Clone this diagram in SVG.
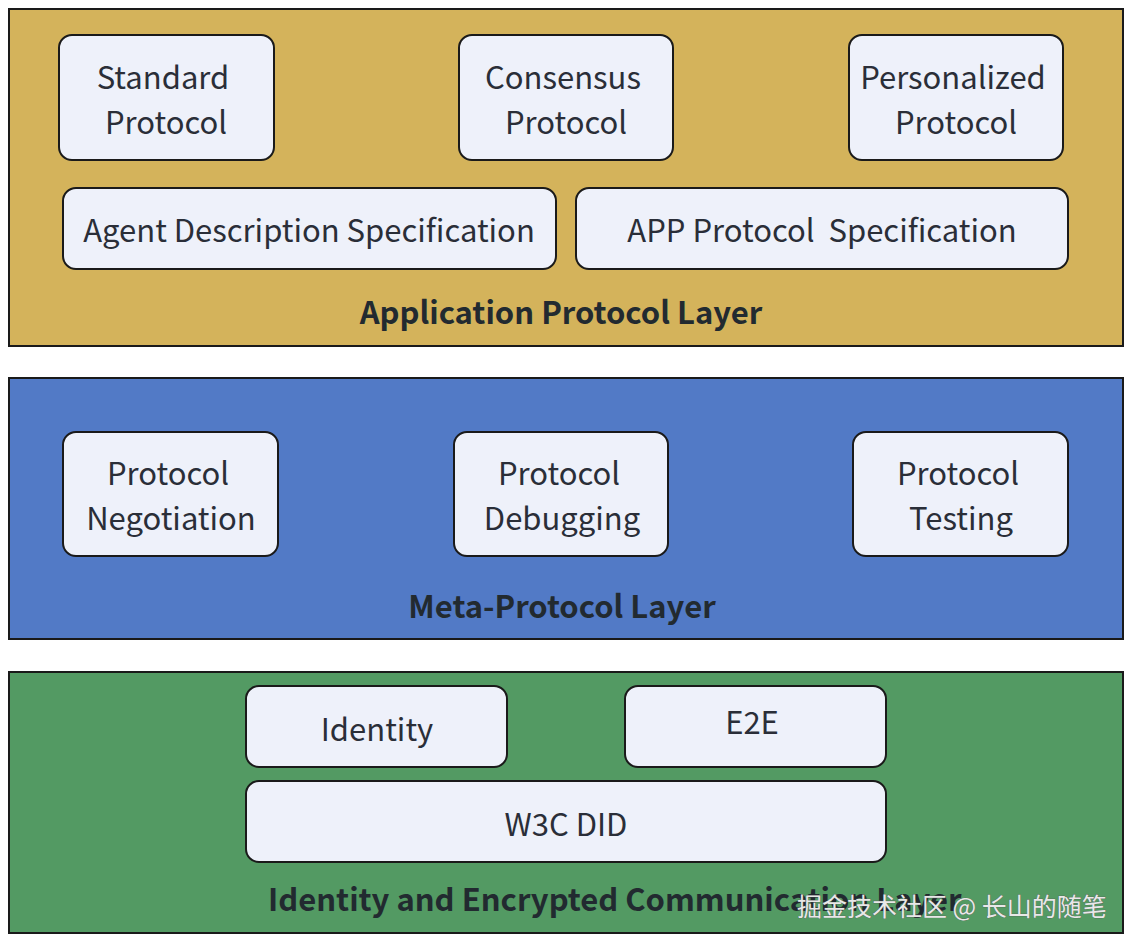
<svg xmlns="http://www.w3.org/2000/svg" width="1134" height="946" viewBox="0 0 1134 946">
<style>
.layer{stroke:#1a1a1a;stroke-width:2}
.node{fill:#eef1fa;stroke:#1a1a1a;stroke-width:2}
.t{font-family:"Noto Sans CJK SC","Noto Sans",sans-serif;font-size:31px;fill:#2a2e38;text-anchor:middle}
.lt{font-family:"Noto Sans CJK SC","Noto Sans",sans-serif;font-size:31px;font-weight:bold;fill:#222a30;text-anchor:middle}
.wm{font-family:"Noto Sans CJK SC",sans-serif;font-size:25px;fill:#e8e8e8;stroke:#555;stroke-width:0.6;paint-order:stroke}
</style>
<rect width="1134" height="946" fill="#ffffff"/>
<g id="layer-app">
<rect class="layer" x="9" y="9" width="1114" height="337" fill="#d4b35b"/>
<text class="lt" x="561" y="324">Application Protocol Layer</text>
</g>
<g id="layer-meta">
<rect class="layer" x="9" y="378" width="1114" height="261" fill="#527ac6"/>
<text class="lt" x="562" y="618">Meta-Protocol Layer</text>
</g>
<g id="layer-id">
<rect class="layer" x="9" y="672" width="1114" height="261" fill="#539a63"/>
<text class="lt" x="268" y="911" style="text-anchor:start">Identity and Encrypted Communication Layer</text>
</g>
<g id="standard-protocol">
<rect class="node" x="59" y="35" width="215" height="125" rx="13"/>
<text class="t" x="163" y="89">Standard</text>
<text class="t" x="166" y="134">Protocol</text>
</g>
<g id="consensus-protocol">
<rect class="node" x="459" y="35" width="214" height="125" rx="13"/>
<text class="t" x="563" y="89">Consensus</text>
<text class="t" x="566" y="134">Protocol</text>
</g>
<g id="personalized-protocol">
<rect class="node" x="849" y="35" width="214" height="125" rx="13"/>
<text class="t" x="953" y="89">Personalized</text>
<text class="t" x="956" y="134">Protocol</text>
</g>
<g id="agent-description">
<rect class="node" x="63" y="188" width="493" height="81" rx="13"/>
<text class="t" x="309" y="242">Agent Description Specification</text>
</g>
<g id="app-protocol-spec">
<rect class="node" x="576" y="188" width="492" height="81" rx="13"/>
<text class="t" x="822" y="242" xml:space="preserve">APP Protocol  Specification</text>
</g>
<g id="protocol-negotiation">
<rect class="node" x="63" y="432" width="215" height="124" rx="13"/>
<text class="t" x="168" y="485">Protocol</text>
<text class="t" x="171" y="530">Negotiation</text>
</g>
<g id="protocol-debugging">
<rect class="node" x="454" y="432" width="214" height="124" rx="13"/>
<text class="t" x="559" y="485">Protocol</text>
<text class="t" x="562" y="530">Debugging</text>
</g>
<g id="protocol-testing">
<rect class="node" x="853" y="432" width="215" height="124" rx="13"/>
<text class="t" x="958" y="485">Protocol</text>
<text class="t" x="961" y="530">Testing</text>
</g>
<g id="identity">
<rect class="node" x="246" y="686" width="261" height="81" rx="13"/>
<text class="t" x="377" y="741">Identity</text>
</g>
<g id="e2e">
<rect class="node" x="625" y="686" width="261" height="81" rx="13"/>
<text class="t" x="752" y="734">E2E</text>
</g>
<g id="w3c-did">
<rect class="node" x="246" y="781" width="640" height="81" rx="13"/>
<text class="t" x="566" y="836">W3C DID</text>
</g>
<g id="connectors"></g>
<text class="wm" x="797" y="916">掘金技术社区 @ 长山的随笔</text>
</svg>
